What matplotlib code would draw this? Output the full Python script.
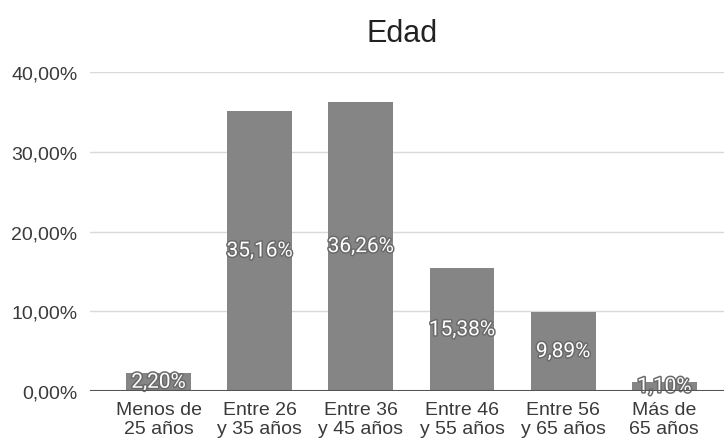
import matplotlib
matplotlib.use("Agg")
import matplotlib.pyplot as plt
import matplotlib.patheffects as pe

# datos
categorias = ["Menos de\n25 años", "Entre 26\ny 35 años", "Entre 36\ny 45 años",
              "Entre 46\ny 55 años", "Entre 56\ny 65 años", "Más de\n65 años"]
valores = [2.20, 35.16, 36.26, 15.38, 9.89, 1.10]
yticks = [0, 10, 20, 30, 40]

plt.rcParams['font.family'] = ['Liberation Sans', 'DejaVu Sans']

fig = plt.figure(figsize=(7.24, 4.39), dpi=100)
ax = fig.add_axes([0.124, 0.107, 0.876, 0.726])

x = list(range(len(categorias)))
bars = ax.bar(x, valores, width=0.64, color='#858585', zorder=3)

for b, v in zip(bars, valores):
    txt = ax.text(b.get_x() + b.get_width() / 2, v / 2, f"{v:.2f}%".replace('.', ','),
                  ha='center', va='center', color='white', fontsize=15,
                  family=['Roboto', 'DejaVu Sans'], zorder=4)
    txt.set_path_effects([pe.withStroke(linewidth=2.2, foreground='#6a6a6a')])

ax.set_xlim(-0.68, 5.59)
ax.set_ylim(0, 40)
ax.set_yticks(yticks)
ax.set_yticklabels([f"{t:.2f}%".replace('.', ',') for t in yticks])
ax.set_xticks(x)
ax.set_xticklabels(categorias, linespacing=1.15)

ax.grid(axis='y', color='#d9d9d9', linewidth=1, zorder=0)
ax.axhline(0, color='#555555', linewidth=1.5, zorder=5)
ax.tick_params(axis='both', length=0, labelsize=14, colors='#3a3a3a')
ax.tick_params(axis='y', pad=9)
ax.tick_params(axis='x', pad=7)
for s in ax.spines.values():
    s.set_visible(False)

fig.text(0.555, 0.922, "Edad", ha='center', va='center', fontsize=22, color='#222222')

fig.savefig("out.png", dpi=100)
